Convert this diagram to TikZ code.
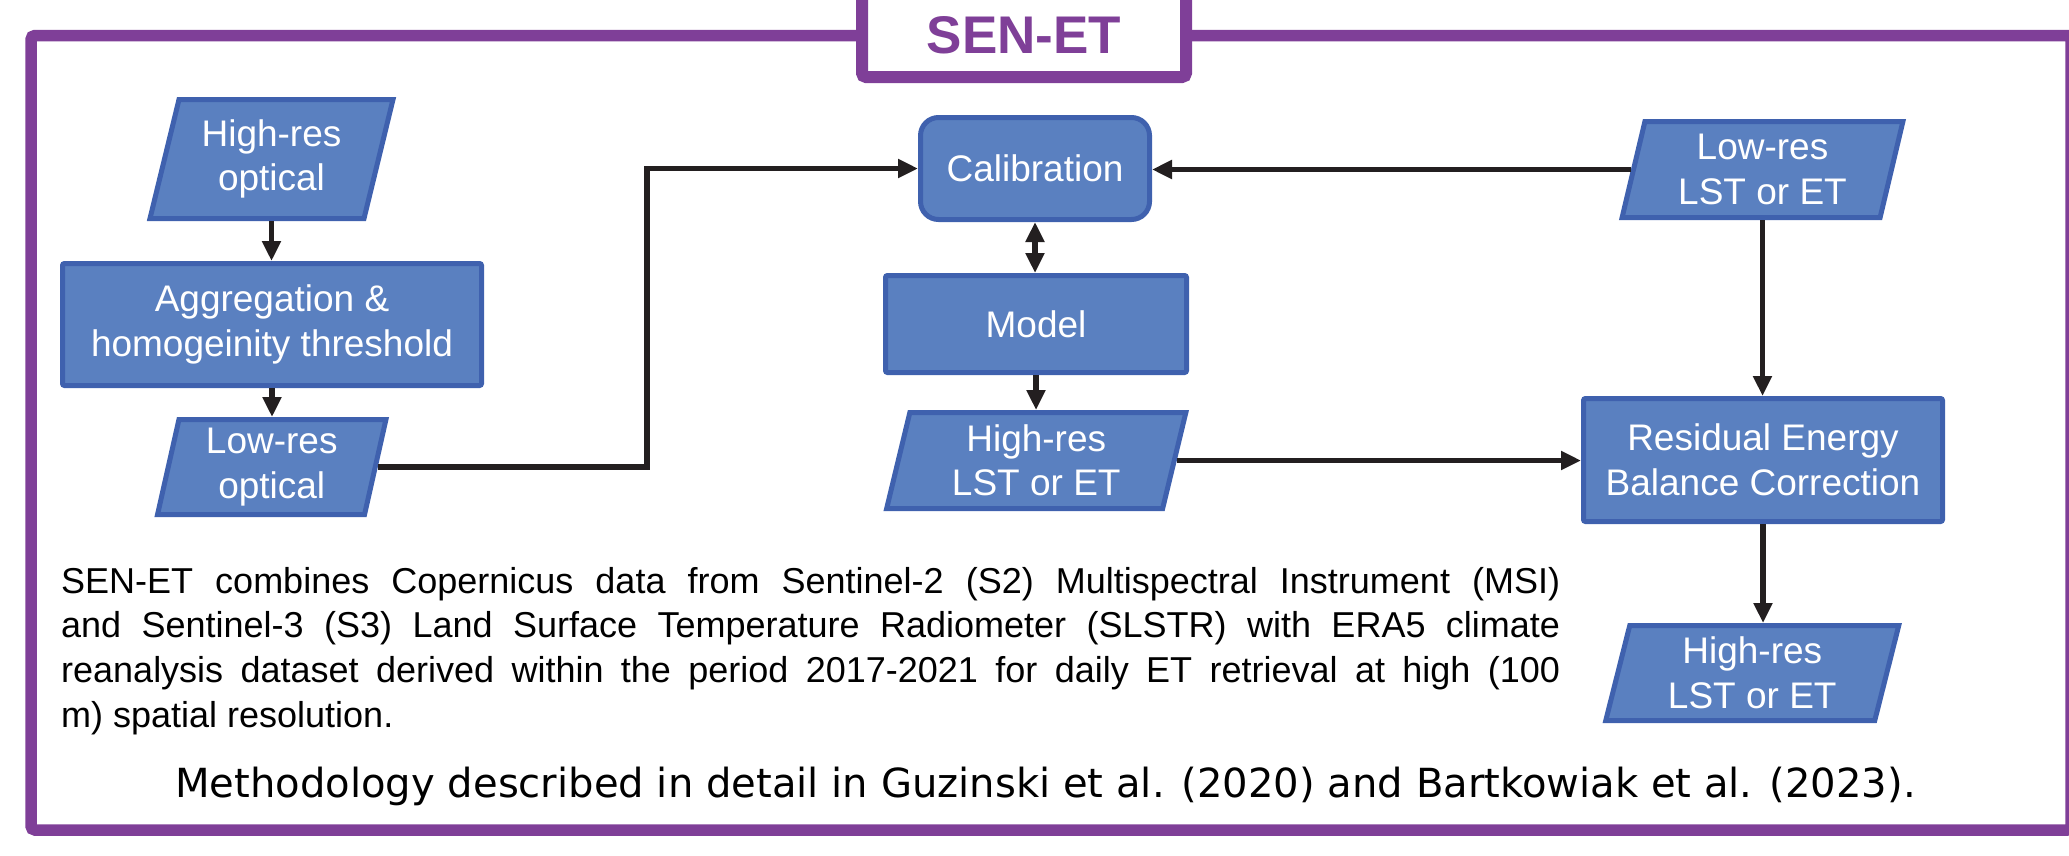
\documentclass[tikz,border=0pt]{standalone}
\usepackage{fontspec}
\setmainfont{Liberation Sans}
\newfontfamily\notefont{DejaVu Sans}
\usetikzlibrary{arrows.meta,calc}

\definecolor{boxfill}{RGB}{90,128,192}
\definecolor{boxline}{RGB}{63,97,174}
\definecolor{framecol}{RGB}{127,63,152}
\definecolor{ink}{RGB}{35,31,32}

\newcommand\boxfont{\fontsize{37}{44.5}\selectfont}
\newcommand\parafont{\fontsize{36}{44.7}\selectfont}

% data parallelogram: name, centre x, centre y, mean width, height, half skew
\newcommand\dataslab[6]{%
  \filldraw[draw=boxline, fill=boxfill, line width=5pt, line join=miter]
    ({#2-#4/2+#6},{#3-#5/2}) -- ({#2+#4/2+#6},{#3-#5/2}) --
    ({#2+#4/2-#6},{#3+#5/2}) -- ({#2-#4/2-#6},{#3+#5/2}) -- cycle;
  \node[datalabel, minimum width=#4pt, minimum height=#5pt] (#1) at (#2,#3)%
}

\begin{document}
\begin{tikzpicture}[x=1pt,y=-1pt,
  procbox/.style={draw=boxline, fill=boxfill, line width=5pt, text=white,
    align=center, font=\boxfont, inner sep=0pt, rounded corners=2pt},
  datalabel/.style={text=white, align=center, font=\boxfont, inner sep=0pt,
    outer sep=2.5pt},
  conn/.style={draw=ink, line width=5.5pt, -{Triangle[length=20pt,width=18pt]}},
  biconn/.style={draw=ink, line width=5.5pt,
    {Triangle[length=20pt,width=18pt]}-{Triangle[length=20pt,width=18pt]}},
]
\useasboundingbox (0,0) rectangle (2069,855);

% outer frame and title tab
\draw[framecol, line width=11.5pt, rounded corners=4pt] (31,35.5) rectangle (2071,830);
\filldraw[fill=white, draw=framecol, line width=12pt, rounded corners=4pt]
  (862,-20) rectangle (1186,77);
\node[text=framecol, inner sep=0pt, font=\fontsize{53}{60}\selectfont\bfseries]
  (title) at (1024,35) {SEN-ET};

% left column
\dataslab{hro}{271.5}{159}{214}{119}{14.5} {High-res\\optical};
\node[procbox, minimum width=419pt, minimum height=122pt] (agg) at (272,324.5)
  {Aggregation \&\\homogeinity threshold};
\dataslab{lro}{271.75}{467}{207}{95}{10.7} {Low-res\\optical};

% middle column
\node[procbox, rounded corners=18pt, minimum width=229pt, minimum height=102pt]
  (cal) at (1035,168.5) {Calibration};
\node[procbox, minimum width=301pt, minimum height=97pt] (model) at (1036,324) {Model};
\dataslab{hlm}{1036.25}{460.5}{276}{96}{11.6} {High-res\\LST or ET};

% right column
\dataslab{llr}{1762.5}{169.5}{258}{96}{11.4} {Low-res\\LST or ET};
\node[procbox, minimum width=359pt, minimum height=123pt] (reb) at (1763,460)
  {Residual Energy\\Balance Correction};
\dataslab{hlr}{1752.25}{673}{269}{95}{12} {High-res\\LST or ET};

% connectors
\coordinate (bend) at (647,168.5);
\draw[conn] (hro.south) -- (hro.south |- agg.north);
\draw[conn] (agg.south) -- (agg.south |- lro.north);
\draw[conn] (lro.east) -| (bend) -- (cal.west);
\draw[biconn] (cal.south) -- (cal.south |- model.north);
\draw[conn] (model.south) -- (model.south |- hlm.north);
\draw[conn] (hlm.east) -- (hlm.east -| reb.west);
\draw[conn] (llr.west) -- (llr.west -| cal.east);
\draw[conn] (llr.south) -- (llr.south |- reb.north);
\draw[conn] (reb.south) -- (reb.south |- hlr.north);

% description
\node[anchor=base west, inner sep=0pt, font=\parafont] (desc) at (61,593)
  {\parbox[t]{1499pt}{%
    \makebox[1499pt][s]{SEN-ET combines Copernicus data from Sentinel-2 (S2) Multispectral Instrument (MSI)}\\
    \makebox[1499pt][s]{and Sentinel-3 (S3) Land Surface Temperature Radiometer (SLSTR) with ERA5 climate}\\
    \makebox[1499pt][s]{reanalysis dataset derived within the period 2017-2021 for daily ET retrieval at high (100}\\
    m) spatial resolution.}};

\node[anchor=base, inner sep=0pt, font=\notefont\fontsize{40.1}{48}\selectfont]
  (refs) at (1045.5,797)
  {Methodology described in detail in Guzinski et al. (2020) and Bartkowiak et al. (2023).};
\end{tikzpicture}
\end{document}
